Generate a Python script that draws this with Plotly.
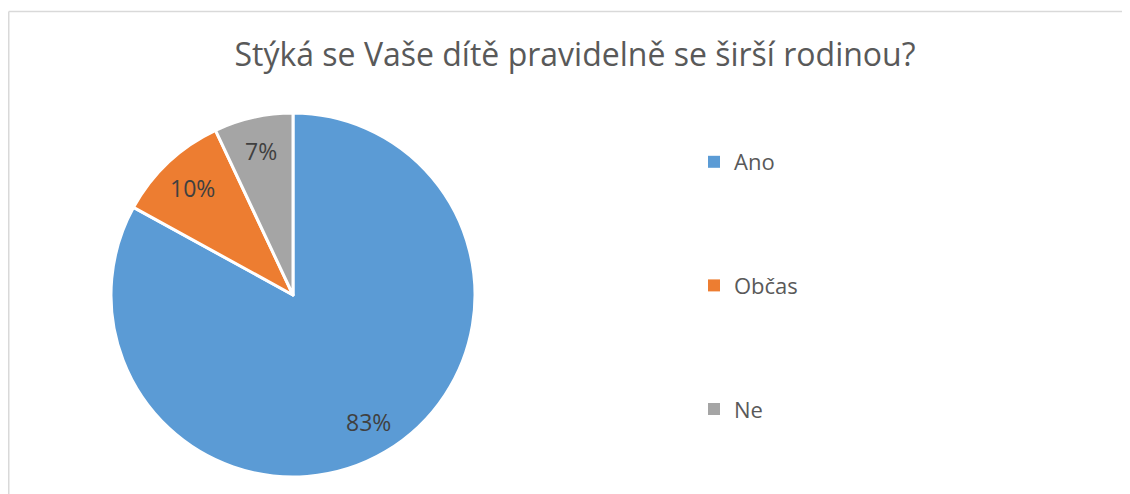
import math
import plotly.graph_objects as go

categories = ["Ano", "Občas", "Ne"]
values = [83, 10, 7]
colors = ["#5B9BD5", "#ED7D31", "#A5A5A5"]
title_text = "Stýká se Vaše dítě pravidelně se širší rodinou?"

# paper is offset by the page's 8px body margin
W, H = 1122, 486
cx, cy, R = 285, 287, 182  # pie centre / radius in paper pixels (from top-left)

fig = go.Figure()
fig.add_trace(go.Pie(
    labels=categories, values=values, sort=False, direction="clockwise", rotation=0,
    marker=dict(colors=colors, line=dict(color="white", width=3)),
    textinfo="none",
    domain=dict(x=[(cx - R) / W, (cx + R) / W], y=[(H - cy - R) / H, (H - cy + R) / H]),
    showlegend=False, hoverinfo="label+percent",
))
for c, col in zip(categories, colors):
    fig.add_trace(go.Scatter(
        x=[None], y=[None], mode="markers", name=c, legendgroup=c,
        marker=dict(symbol="square", size=10, color=col),
    ))

# percentage labels placed at the middle angle of each slice
total = sum(values)
annotations = []
cum = 0
for v in values:
    mid = (cum + v / 2) / total * 2 * math.pi
    cum += v
    rf = 0.81
    px = cx + rf * R * math.sin(mid)
    py = cy - rf * R * math.cos(mid)
    annotations.append(dict(
        x=px / W, y=1 - py / H, xref="paper", yref="paper", showarrow=False,
        text=f"{round(v / total * 100)}%", xanchor="center", yanchor="middle",
        font=dict(family="Open Sans", size=23, color="#404040"),
    ))

fig.update_layout(
    width=W, height=H,
    margin=dict(l=0, r=0, t=0, b=0),
    paper_bgcolor="white", plot_bgcolor="white",
    title=dict(text=title_text, x=567 / W, xanchor="center", y=1 - 47 / H, yanchor="middle",
               font=dict(family="Open Sans", size=32, color="#595959")),
    xaxis=dict(visible=False), yaxis=dict(visible=False),
    legend=dict(x=686 / W, xanchor="left", y=1 - 133 / H, yanchor="top",
                font=dict(family="Open Sans", size=22, color="#595959"),
                tracegroupgap=92, itemsizing="constant", bgcolor="rgba(0,0,0,0)"),
    annotations=annotations,
    shapes=[
        dict(type="line", xref="paper", yref="paper", x0=0.75 / W, x1=1, y0=1 - 3.5 / H, y1=1 - 3.5 / H,
             line=dict(color="#D9D9D9", width=1.5)),
        dict(type="line", xref="paper", yref="paper", x0=0.75 / W, x1=0.75 / W, y0=0, y1=1 - 3.5 / H,
             line=dict(color="#D9D9D9", width=1.5)),
    ],
)
fig.write_html("out.html")
